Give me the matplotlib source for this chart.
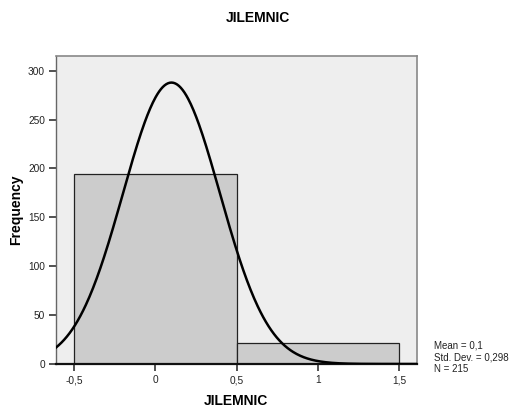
import numpy as np
import matplotlib
matplotlib.use("Agg")
import matplotlib.pyplot as plt

bin_edges = [-0.5, 0.5, 1.5]
counts = [194, 21]
mean = 0.1
std = 0.298
n = 215
xticks = [-0.5, 0, 0.5, 1, 1.5]
xticklabels = ["-0,5", "0", "0,5", "1", "1,5"]
yticks = [0, 50, 100, 150, 200, 250, 300]

plt.rcParams['font.family'] = ['Liberation Sans', 'DejaVu Sans']

fig = plt.figure(figsize=(5.12, 4.13), dpi=100)
ax = fig.add_axes([56/512, 49/413, (417-56)/512, (364-56)/413])
ax.set_facecolor('#eeeeee')

lefts = bin_edges[:-1]
widths = np.diff(bin_edges)
ax.bar(lefts, counts, width=widths, align='edge', color='#cccccc',
       edgecolor='#222222', linewidth=0.9, zorder=2)

xlim = (-0.61, 1.61)
xs = np.linspace(xlim[0], xlim[1], 400)
bw = widths[0]
ys = n * bw / (std * np.sqrt(2 * np.pi)) * np.exp(-0.5 * ((xs - mean) / std) ** 2)
ax.plot(xs, ys, color='black', linewidth=1.8, zorder=3)

ax.set_xlim(*xlim)
ax.set_ylim(0, 315)
ax.set_xticks(xticks)
ax.set_xticklabels(xticklabels)
ax.set_yticks(yticks)
ax.tick_params(axis='both', direction='out', length=5, width=1.2,
               color='#333333', labelsize=7.3, labelcolor='#222222', pad=3)

for s in ['top', 'right']:
    ax.spines[s].set_color('#888888')
    ax.spines[s].set_linewidth(1.2)
ax.spines['left'].set_color('#666666')
ax.spines['left'].set_linewidth(1.0)
ax.spines['bottom'].set_color('#111111')
ax.spines['bottom'].set_linewidth(1.6)

ax.set_xlabel('JILEMNIC', fontsize=10, fontweight='bold')
ax.xaxis.set_label_coords((236-56)/361, (364-401)/308)
ax.xaxis.label.set_va('center')
ax.set_ylabel('Frequency', fontsize=10, fontweight='bold')
ax.yaxis.set_label_coords((16-56)/361, 0.5)
ax.yaxis.label.set_va('center')
fig.text(258/512, 1 - 18/413, 'JILEMNIC', ha='center', va='center',
         fontsize=10, fontweight='bold')

fig.text(434/512, 1 - 357/413, f"Mean = {str(mean).replace('.', ',')}\nStd. Dev. = {str(std).replace('.', ',')}\nN = {n}",
         ha='left', va='center', fontsize=7, color='#222222', linespacing=1.25)

fig.savefig('out.png', dpi=100)
